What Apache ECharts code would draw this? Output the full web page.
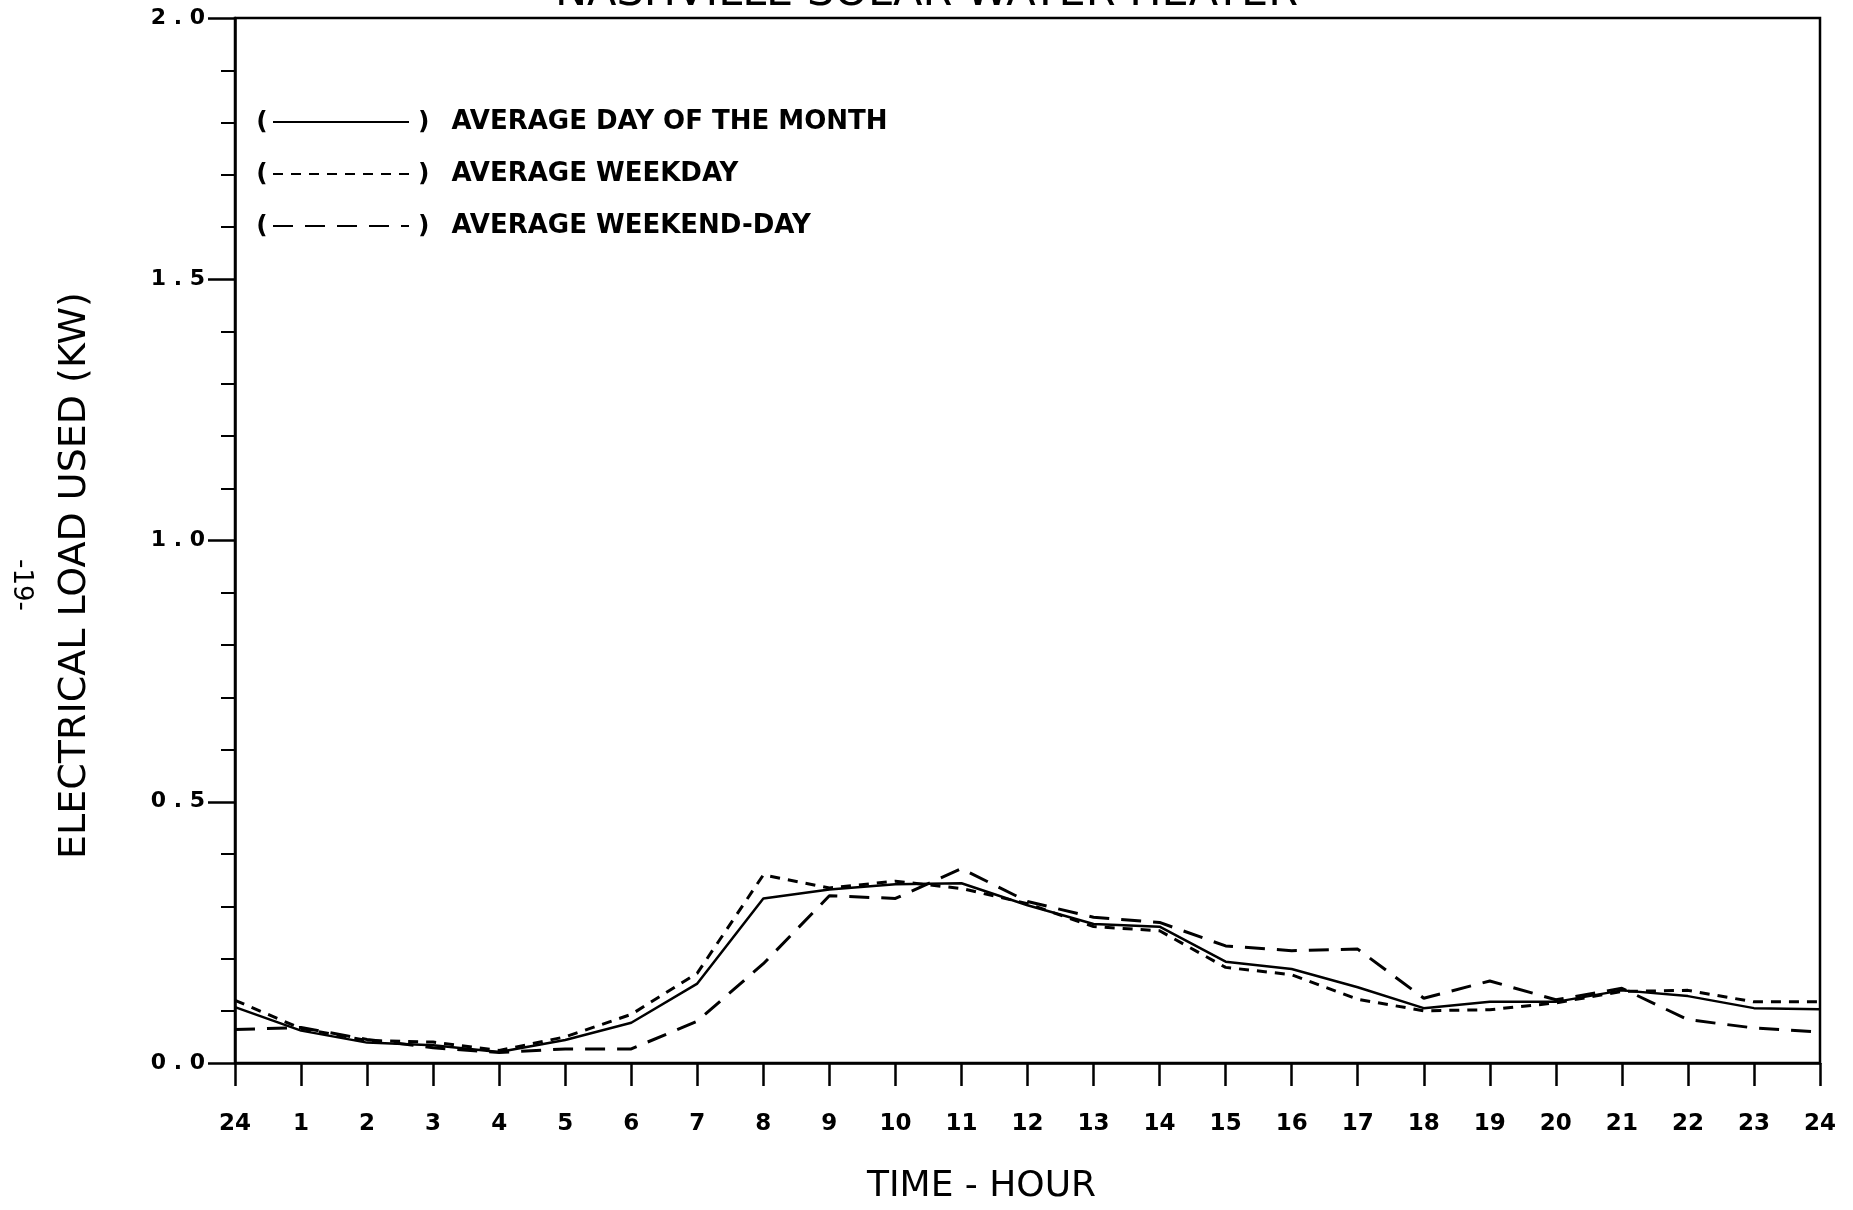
<!DOCTYPE html>
<html>
<head>
<meta charset="utf-8">
<script src="https://cdn.jsdelivr.net/npm/echarts@6/dist/echarts.min.js"></script>
<style>
html,body{margin:0;padding:0;background:#fff;}
#chart{width:1853px;height:1210px;}
</style>
</head>
<body>
<div id="chart"></div>
<script>
// Tick labels for the hour axis (positions 0..24)
var hourLabels = ['24','1','2','3','4','5','6','7','8','9','10','11','12','13','14','15','16','17','18','19','20','21','22','23','24'];
// Series values (kW), one per hour position
var avgDay     = [0.107,0.062,0.039,0.034,0.021,0.044,0.077,0.152,0.315,0.332,0.342,0.344,0.302,0.266,0.261,0.194,0.180,0.145,0.105,0.117,0.117,0.139,0.128,0.105,0.103];
var avgWeekday = [0.120,0.066,0.043,0.040,0.024,0.050,0.093,0.172,0.360,0.335,0.348,0.334,0.305,0.261,0.253,0.183,0.169,0.122,0.100,0.102,0.115,0.137,0.139,0.117,0.117];
var avgWeekend = [0.064,0.068,0.045,0.029,0.020,0.027,0.027,0.080,0.190,0.320,0.315,0.372,0.309,0.279,0.269,0.224,0.215,0.218,0.124,0.157,0.121,0.143,0.083,0.067,0.059];
var seriesNames = ['AVERAGE DAY OF THE MONTH','AVERAGE WEEKDAY','AVERAGE WEEKEND-DAY'];

function pairs(arr){ return arr.map(function(v,i){ return [i, v]; }); }

var chart = echarts.init(document.getElementById('chart'), null, {renderer:'canvas'});
var bracketFont = 'bold 25px "DejaVu Sans"';
var option = {
  animation: false,
  backgroundColor: '#fff',
  title: {
    text: 'NASHVILLE SOLAR WATER HEATER',
    left: 'center',
    top: -33,
    padding: [5, 5, 5, 125],
    textStyle: {fontFamily: 'DejaVu Sans', fontWeight: 'normal', fontSize: 43, color: '#000'}
  },
  grid: {left: 235, right: 33, top: 18, bottom: 143, show: true, borderColor: '#000', borderWidth: 2.5, backgroundColor: 'transparent'},
  legend: {
    orient: 'vertical',
    left: 272,
    top: 109,
    padding: 0,
    itemWidth: 136,
    itemHeight: 26,
    itemGap: 26,
    itemStyle: {opacity: 0},
    selectedMode: false,
    data: seriesNames,
    formatter: function(n){ return '{p|)}' + n; },
    textStyle: {
      fontFamily: 'DejaVu Sans', fontWeight: 'bold', fontSize: 26, color: '#000', lineHeight: 26,
      rich: {p: {fontFamily: 'DejaVu Sans', fontWeight: 'bold', fontSize: 25, color: '#000', padding: [0, 22, 0, 4]}}
    }
  },
  graphic: [
    {type:'text', x: 262, y: 122, style:{text:'(', font: bracketFont, fill:'#000', textAlign:'center', textVerticalAlign:'middle'}},
    {type:'text', x: 262, y: 174, style:{text:'(', font: bracketFont, fill:'#000', textAlign:'center', textVerticalAlign:'middle'}},
    {type:'text', x: 262, y: 226, style:{text:'(', font: bracketFont, fill:'#000', textAlign:'center', textVerticalAlign:'middle'}},
    {type:'text', x: 21, y: 585, rotation: -Math.PI/2, style:{text:'-19-', font:'normal 26px "DejaVu Sans"', fill:'#000', textAlign:'center', textVerticalAlign:'middle'}}
  ],
  xAxis: {
    type: 'value',
    min: 0, max: 24, interval: 1,
    name: 'TIME - HOUR',
    nameLocation: 'middle',
    nameGap: 106,
    nameTextStyle: {fontFamily: 'DejaVu Sans', fontWeight: 'normal', fontSize: 36, color: '#000', padding: [0, 92, 0, 0]},
    axisLine: {show: true, onZero: false, lineStyle: {color: '#000', width: 2.5}},
    axisTick: {show: true, inside: false, length: 23, lineStyle: {color: '#000', width: 2.5}},
    axisLabel: {
      margin: 50, color: '#000', fontFamily: 'DejaVu Sans', fontWeight: 'bold', fontSize: 23,
      formatter: function(v){ return hourLabels[Math.round(v)]; }
    },
    splitLine: {show: false}
  },
  yAxis: {
    type: 'value',
    min: 0, max: 2, interval: 0.5,
    name: 'ELECTRICAL LOAD USED (KW)',
    nameLocation: 'middle',
    nameGap: 141,
    nameTextStyle: {fontFamily: 'DejaVu Sans', fontWeight: 'normal', fontSize: 38, color: '#000', padding: [0, 70, 0, 0]},
    axisLine: {show: true, lineStyle: {color: '#000', width: 2.5}},
    axisTick: {show: true, inside: false, length: 27, lineStyle: {color: '#000', width: 2.5}},
    minorTick: {show: true, splitNumber: 5, length: 14, lineStyle: {color: '#000', width: 2}},
    axisLabel: {
      margin: 30, color: '#000', fontFamily: 'DejaVu Sans', fontWeight: 'bold', fontSize: 22,
      formatter: function(v){ return v.toFixed(1).split('').join(' '); }
    },
    splitLine: {show: false}
  },
  series: [
    {name: seriesNames[0], type: 'line', data: pairs(avgDay), symbol: 'none', silent: true,
     itemStyle: {color: '#000'}, lineStyle: {color: '#000', width: 2.5, type: 'solid'}},
    {name: seriesNames[1], type: 'line', data: pairs(avgWeekday), symbol: 'none', silent: true,
     itemStyle: {color: '#000'}, lineStyle: {color: '#000', width: 3, type: [10, 8]}},
    {name: seriesNames[2], type: 'line', data: pairs(avgWeekend), symbol: 'none', silent: true,
     itemStyle: {color: '#000'}, lineStyle: {color: '#000', width: 3, type: [20, 12]}}
  ]
};
chart.setOption(option);
</script>
</body>
</html>
